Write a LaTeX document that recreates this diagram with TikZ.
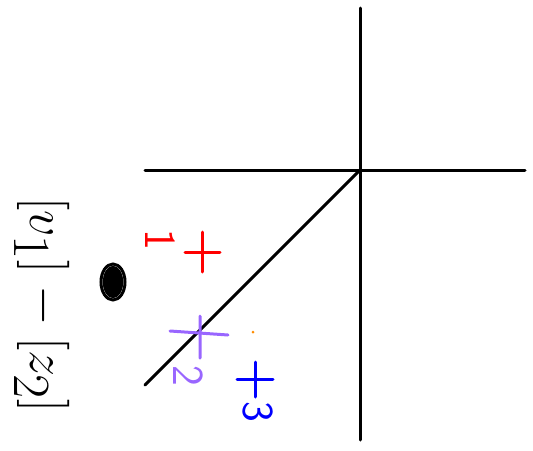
\documentclass[tikz,border=0pt]{standalone}
\usepackage{amsmath}
\usetikzlibrary{positioning}
\usetikzlibrary{calc}
\definecolor{penred}{RGB}{255,0,0}
\definecolor{penpurple}{RGB}{153,102,255}
\definecolor{penblue}{RGB}{0,0,255}
\definecolor{penorange}{RGB}{255,140,0}

\begin{document}
\begin{tikzpicture}[
    x=1pt, y=-1pt,
    axis/.style={line width=3pt, line cap=round},
    cross/.style={line width=3pt, line cap=round},
    num/.style={font=\fontsize{34}{36}\selectfont\sffamily, rotate=-90, inner sep=0pt, scale=1.3},
    >=latex
]
    \useasboundingbox (0,0) rectangle (533,450);

    % axes and diagonal
    \coordinate (o) at (360,170);
    \coordinate (top) at (360,8);
    \coordinate (bot) at (360,440);
    \coordinate (left) at (145,170);
    \coordinate (right) at (525,170);
    \coordinate (diag) at (145,385);
    \draw[axis] (top) -- (bot);
    \draw[axis] (left) -- (right);
    \draw[axis] (o) -- (diag);

    % three marks
    \coordinate (p1) at (202,252);
    \coordinate (p2) at (200,334);
    \coordinate (p3) at (255,379);
    \draw[cross, penred] ($(p1)+(-17,0)$) -- ($(p1)+(18,0)$) ($(p1)+(0,-20)$) -- ($(p1)+(0,20)$);
    \draw[cross, penpurple] ($(p2)+(-30,-3)$) -- ($(p2)+(28,1)$) ($(p2)+(0,-18)$) -- ($(p2)+(0,24)$);
    \draw[cross, penblue] ($(p3)+(-18,0)$) -- ($(p3)+(18,0)$) ($(p3)+(0,-17)$) -- ($(p3)+(0,18)$);
    \node[num, text=penred] (n1) at (160,240) {1};
    \node[num, text=penpurple] (n2) at (188,376) {2};
    \node[num, text=penblue] (n3) at (258,412) {3};
    \fill[penorange] (253,332) circle (1.5);

    % scribble and side label
    \node[circle, fill=black, minimum width=24pt, inner sep=0pt, xscale=0.85, yscale=1.35] (dot) at (113,282) {};
    \draw[line width=3pt] (dot.center) ellipse (12 and 18);
    \node[font=\fontsize{40}{42}\selectfont, rotate=-90, scale=2.1] (diff) at (42,305) {$[v_1]-[z_2]$};
\end{tikzpicture}
\end{document}
